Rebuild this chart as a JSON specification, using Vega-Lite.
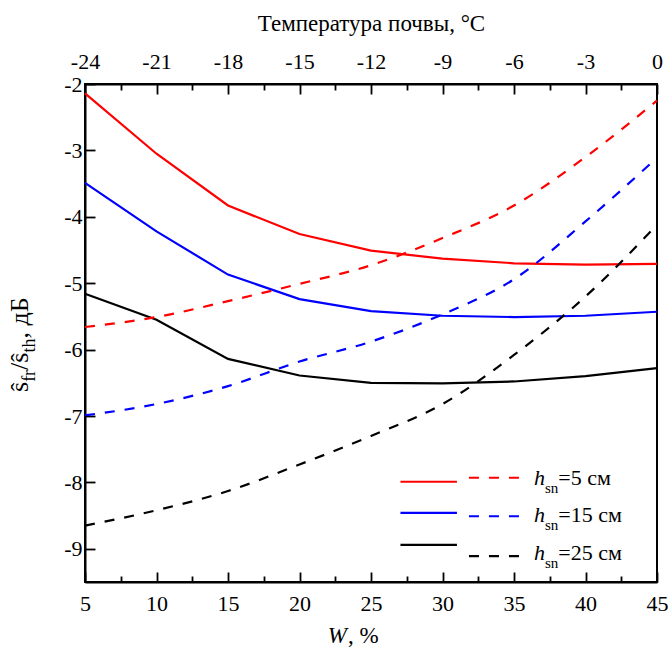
{
  "$schema": "https://vega.github.io/schema/vega-lite/v6.json",
  "width": 572,
  "height": 498,
  "autosize": "none",
  "padding": {"left": 85, "top": 84, "right": 15, "bottom": 71},
  "background": "white",
  "config": {
    "font": "serif",
    "view": {"stroke": "black", "strokeWidth": 2},
    "axis": {
      "domainColor": "black",
      "domainWidth": 2,
      "tickColor": "black",
      "tickWidth": 1.8,
      "grid": false,
      "labelFont": "serif",
      "labelFontSize": 22,
      "labelColor": "black",
      "labelOverlap": false,
      "labelBound": false,
      "labelFlush": false,
      "titleFont": "serif",
      "titleFontWeight": "normal",
      "titleColor": "black",
      "titleFontSize": 23
    },
    "text": {"font": "serif", "color": "black"}
  },
  "datasets": {
    "moisture": [
      {"W": 5, "v": -2.14, "h": "5"}, {"W": 10, "v": -3.05, "h": "5"}, {"W": 15, "v": -3.83, "h": "5"},
      {"W": 20, "v": -4.26, "h": "5"}, {"W": 25, "v": -4.51, "h": "5"}, {"W": 30, "v": -4.63, "h": "5"},
      {"W": 35, "v": -4.70, "h": "5"}, {"W": 40, "v": -4.72, "h": "5"}, {"W": 45, "v": -4.71, "h": "5"},
      {"W": 5, "v": -3.49, "h": "15"}, {"W": 10, "v": -4.22, "h": "15"}, {"W": 15, "v": -4.87, "h": "15"},
      {"W": 20, "v": -5.24, "h": "15"}, {"W": 25, "v": -5.42, "h": "15"}, {"W": 30, "v": -5.49, "h": "15"},
      {"W": 35, "v": -5.51, "h": "15"}, {"W": 40, "v": -5.49, "h": "15"}, {"W": 45, "v": -5.43, "h": "15"},
      {"W": 5, "v": -5.16, "h": "25"}, {"W": 10, "v": -5.55, "h": "25"}, {"W": 15, "v": -6.14, "h": "25"},
      {"W": 20, "v": -6.39, "h": "25"}, {"W": 25, "v": -6.50, "h": "25"}, {"W": 30, "v": -6.51, "h": "25"},
      {"W": 35, "v": -6.48, "h": "25"}, {"W": 40, "v": -6.40, "h": "25"}, {"W": 45, "v": -6.28, "h": "25"}
    ],
    "temperature": [
      {"T": -24, "v": -5.66, "h": "5"}, {"T": -21, "v": -5.51, "h": "5"}, {"T": -18, "v": -5.27, "h": "5"},
      {"T": -15, "v": -5.01, "h": "5"}, {"T": -12, "v": -4.73, "h": "5"}, {"T": -9, "v": -4.32, "h": "5"},
      {"T": -6, "v": -3.83, "h": "5"}, {"T": -3, "v": -3.10, "h": "5"}, {"T": 0, "v": -2.25, "h": "5"},
      {"T": -24, "v": -6.99, "h": "15"}, {"T": -21, "v": -6.82, "h": "15"}, {"T": -18, "v": -6.55, "h": "15"},
      {"T": -15, "v": -6.18, "h": "15"}, {"T": -12, "v": -5.88, "h": "15"}, {"T": -9, "v": -5.47, "h": "15"},
      {"T": -6, "v": -4.94, "h": "15"}, {"T": -3, "v": -4.07, "h": "15"}, {"T": 0, "v": -3.11, "h": "15"},
      {"T": -24, "v": -8.65, "h": "25"}, {"T": -21, "v": -8.42, "h": "25"}, {"T": -18, "v": -8.13, "h": "25"},
      {"T": -15, "v": -7.73, "h": "25"}, {"T": -12, "v": -7.30, "h": "25"}, {"T": -9, "v": -6.82, "h": "25"},
      {"T": -6, "v": -6.08, "h": "25"}, {"T": -3, "v": -5.20, "h": "25"}, {"T": 0, "v": -4.12, "h": "25"}
    ]
  },
  "resolve": {"scale": {"x": "independent"}, "axis": {"x": "independent"}},
  "layer": [
    {
      "data": {"name": "moisture"},
      "mark": {"type": "line", "strokeWidth": 2.2},
      "encoding": {
        "x": {
          "field": "W", "type": "quantitative",
          "scale": {"domain": [5, 45], "nice": false, "zero": false},
          "axis": {
            "orient": "bottom", "title": null,
            "values": [5, 7.5, 10, 12.5, 15, 17.5, 20, 22.5, 25, 27.5, 30, 32.5, 35, 37.5, 40, 42.5, 45],
            "labelExpr": "datum.value % 5 === 0 ? '' + datum.value : ''",
            "tickSize": {"condition": {"test": "datum.value % 5 === 0", "value": -10}, "value": -6},
            "labelPadding": 21
          }
        },
        "y": {
          "field": "v", "type": "quantitative",
          "scale": {"domain": [-9.5, -2], "nice": false, "zero": false},
          "axis": {
            "orient": "left", "title": null,
            "values": [-9, -8.5, -8, -7.5, -7, -6.5, -6, -5.5, -5, -4.5, -4, -3.5, -3, -2.5, -2],
            "labelExpr": "datum.value % 1 === 0 ? '' + datum.value : ''",
            "tickSize": {"condition": {"test": "datum.value % 1 === 0", "value": -10}, "value": -5},
            "labelPadding": 13
          }
        },
        "color": {
          "field": "h", "type": "nominal",
          "scale": {"domain": ["5", "15", "25"], "range": ["#ff0000", "#0000ff", "#000000"]},
          "legend": null
        }
      }
    },
    {
      "data": {"name": "temperature"},
      "mark": {"type": "line", "strokeWidth": 2.2, "strokeDash": [10, 10], "interpolate": "monotone"},
      "encoding": {
        "x": {
          "field": "T", "type": "quantitative",
          "scale": {"domain": [-24, 0], "nice": false, "zero": false},
          "axis": {
            "orient": "top",
            "title": "Температура почвы, °C",
            "titlePadding": 11,
            "values": [-24, -22.5, -21, -19.5, -18, -16.5, -15, -13.5, -12, -10.5, -9, -7.5, -6, -4.5, -3, -1.5, 0],
            "labelExpr": "datum.value % 3 === 0 ? '' + datum.value : ''",
            "tickSize": {"condition": {"test": "datum.value % 3 === 0", "value": -10}, "value": -6},
            "labelPadding": 21
          }
        },
        "y": {"field": "v", "type": "quantitative", "scale": {"domain": [-9.5, -2], "nice": false, "zero": false}},
        "color": {"field": "h", "type": "nominal", "legend": null}
      }
    },
    {
      "data": {"values": [{"h": "5"}]},
      "mark": {"type": "rule", "strokeWidth": 2.2},
      "encoding": {
        "x": {"datum": 27.06, "type": "quantitative", "scale": {"domain": [5, 45], "nice": false, "zero": false}, "axis": null},
        "x2": {"datum": 31.01},
        "y": {"datum": -7.99, "type": "quantitative", "scale": {"domain": [-9.5, -2], "nice": false, "zero": false}},
        "color": {"field": "h", "type": "nominal", "legend": null}
      }
    },
    {
      "data": {"values": [{"h": "15"}]},
      "mark": {"type": "rule", "strokeWidth": 2.2},
      "encoding": {
        "x": {"datum": 27.06, "type": "quantitative", "scale": {"domain": [5, 45], "nice": false, "zero": false}, "axis": null},
        "x2": {"datum": 31.01},
        "y": {"datum": -8.46, "type": "quantitative", "scale": {"domain": [-9.5, -2], "nice": false, "zero": false}},
        "color": {"field": "h", "type": "nominal", "legend": null}
      }
    },
    {
      "data": {"values": [{"h": "25"}]},
      "mark": {"type": "rule", "strokeWidth": 2.2},
      "encoding": {
        "x": {"datum": 27.06, "type": "quantitative", "scale": {"domain": [5, 45], "nice": false, "zero": false}, "axis": null},
        "x2": {"datum": 31.01},
        "y": {"datum": -8.94, "type": "quantitative", "scale": {"domain": [-9.5, -2], "nice": false, "zero": false}},
        "color": {"field": "h", "type": "nominal", "legend": null}
      }
    },
    {
      "data": {"values": [{"h": "5"}]},
      "mark": {"type": "rule", "strokeWidth": 2.2, "strokeDash": [10, 10]},
      "encoding": {
        "x": {"datum": 31.85, "type": "quantitative", "scale": {"domain": [5, 45], "nice": false, "zero": false}, "axis": null},
        "x2": {"datum": 35.6},
        "y": {"datum": -7.93, "type": "quantitative", "scale": {"domain": [-9.5, -2], "nice": false, "zero": false}},
        "color": {"field": "h", "type": "nominal", "legend": null}
      }
    },
    {
      "data": {"values": [{"h": "15"}]},
      "mark": {"type": "rule", "strokeWidth": 2.2, "strokeDash": [10, 10]},
      "encoding": {
        "x": {"datum": 31.85, "type": "quantitative", "scale": {"domain": [5, 45], "nice": false, "zero": false}, "axis": null},
        "x2": {"datum": 35.6},
        "y": {"datum": -8.51, "type": "quantitative", "scale": {"domain": [-9.5, -2], "nice": false, "zero": false}},
        "color": {"field": "h", "type": "nominal", "legend": null}
      }
    },
    {
      "data": {"values": [{"h": "25"}]},
      "mark": {"type": "rule", "strokeWidth": 2.2, "strokeDash": [10, 10]},
      "encoding": {
        "x": {"datum": 31.85, "type": "quantitative", "scale": {"domain": [5, 45], "nice": false, "zero": false}, "axis": null},
        "x2": {"datum": 35.6},
        "y": {"datum": -9.11, "type": "quantitative", "scale": {"domain": [-9.5, -2], "nice": false, "zero": false}},
        "color": {"field": "h", "type": "nominal", "legend": null}
      }
    },
    {
      "data": {"values": [{"label": "=5 см", "row": -8.04}, {"label": "=15 см", "row": -8.6}, {"label": "=25 см", "row": -9.17}]},
      "layer": [
        {
          "mark": {"type": "text", "text": "h", "font": "serif", "fontStyle": "italic", "fontSize": 22, "align": "left", "baseline": "alphabetic"},
          "encoding": {
            "x": {"datum": 36.4, "type": "quantitative", "scale": {"domain": [5, 45], "nice": false, "zero": false}, "axis": null},
            "y": {"field": "row", "type": "quantitative", "scale": {"domain": [-9.5, -2], "nice": false, "zero": false}}
          }
        },
        {
          "mark": {"type": "text", "text": "sn", "font": "serif", "fontSize": 15, "align": "left", "baseline": "alphabetic", "dy": 8},
          "encoding": {
            "x": {"datum": 37.17, "type": "quantitative", "scale": {"domain": [5, 45], "nice": false, "zero": false}, "axis": null},
            "y": {"field": "row", "type": "quantitative", "scale": {"domain": [-9.5, -2], "nice": false, "zero": false}}
          }
        },
        {
          "mark": {"type": "text", "font": "serif", "fontSize": 22, "align": "left", "baseline": "alphabetic"},
          "encoding": {
            "x": {"datum": 38.1, "type": "quantitative", "scale": {"domain": [5, 45], "nice": false, "zero": false}, "axis": null},
            "y": {"field": "row", "type": "quantitative", "scale": {"domain": [-9.5, -2], "nice": false, "zero": false}},
            "text": {"field": "label"}
          }
        }
      ]
    },
    {
      "data": {"values": [{"part": "ŝ", "at": -6.639}, {"part": "/", "at": -6.306}, {"part": "ŝ", "at": -6.197}, {"part": ", дБ", "at": -5.834}]},
      "mark": {"type": "text", "font": "serif", "angle": 270, "fontSize": 26, "align": "left", "baseline": "alphabetic"},
      "encoding": {
        "x": {"datum": 1.01, "type": "quantitative", "scale": {"domain": [5, 45], "nice": false, "zero": false}, "axis": null},
        "y": {"field": "at", "type": "quantitative", "scale": {"domain": [-9.5, -2], "nice": false, "zero": false}},
        "text": {"field": "part"}
      }
    },
    {
      "data": {"values": [{"part": "fr", "at": -6.486}, {"part": "th", "at": -6.045}]},
      "mark": {"type": "text", "font": "serif", "angle": 270, "fontSize": 18, "align": "left", "baseline": "alphabetic", "dy": 7},
      "encoding": {
        "x": {"datum": 1.01, "type": "quantitative", "scale": {"domain": [5, 45], "nice": false, "zero": false}, "axis": null},
        "y": {"field": "at", "type": "quantitative", "scale": {"domain": [-9.5, -2], "nice": false, "zero": false}},
        "text": {"field": "part"}
      }
    },
    {
      "data": {"values": [{"part": "W"}]},
      "mark": {"type": "text", "font": "serif", "fontSize": 23, "fontStyle": "italic", "align": "right", "baseline": "alphabetic"},
      "encoding": {
        "x": {"datum": 23.32, "type": "quantitative", "scale": {"domain": [5, 45], "nice": false, "zero": false}, "axis": null},
        "y": {"datum": -10.42, "type": "quantitative", "scale": {"domain": [-9.5, -2], "nice": false, "zero": false}},
        "text": {"field": "part"}
      }
    },
    {
      "data": {"values": [{"part": ", %"}]},
      "mark": {"type": "text", "font": "serif", "fontSize": 23, "align": "left", "baseline": "alphabetic"},
      "encoding": {
        "x": {"datum": 23.4, "type": "quantitative", "scale": {"domain": [5, 45], "nice": false, "zero": false}, "axis": null},
        "y": {"datum": -10.42, "type": "quantitative", "scale": {"domain": [-9.5, -2], "nice": false, "zero": false}},
        "text": {"field": "part"}
      }
    }
  ]
}
